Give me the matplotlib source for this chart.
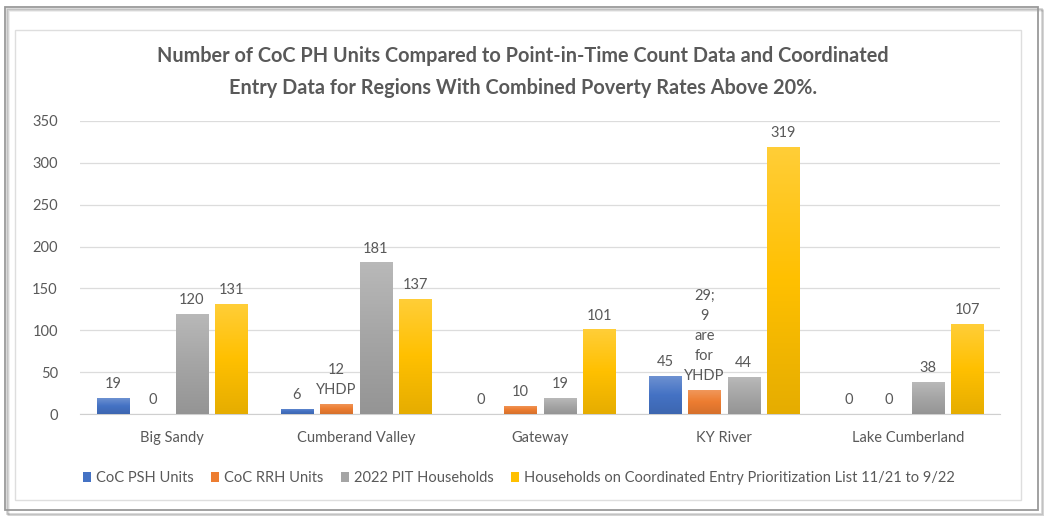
import numpy as np
import matplotlib
matplotlib.use("Agg")
import matplotlib.pyplot as plt
from matplotlib.colors import to_rgb, LinearSegmentedColormap
from matplotlib.patches import Rectangle, Patch

plt.rcParams["font.family"] = ["Lato", "DejaVu Sans"]

regions = ["Big Sandy", "Cumberand Valley", "Gateway", "KY River", "Lake Cumberland"]
series_names = [
    "CoC PSH Units",
    "CoC RRH Units",
    "2022 PIT Households",
    "Households on Coordinated Entry Prioritization List 11/21 to 9/22",
]
psh_units = [19, 6, 0, 45, 0]
rrh_units = [0, 12, 10, 29, 0]
pit_households = [120, 181, 19, 44, 38]
ce_households = [131, 137, 101, 319, 107]
rrh_labels = ["0", "12\nYHDP", "10", "29;\n9\nare\nfor\nYHDP", "0"]
y_ticks = [0, 50, 100, 150, 200, 250, 300, 350]

COLORS = ["#4472C4", "#ED7D31", "#A5A5A5", "#FFC000"]
TEXT = "#595959"


def shade(color, amount):
    r, g, b = to_rgb(color)
    if amount > 0:
        return (r + (1 - r) * amount, g + (1 - g) * amount, b + (1 - b) * amount)
    return (r * (1 + amount), g * (1 + amount), b * (1 + amount))


fig = plt.figure(figsize=(10.44, 5.16), dpi=100)
fig.patch.set_facecolor("white")

# outer frame with a soft shadow, then inner chart border
W, H = 1044, 516
for off, alpha in [(4, 0.08), (3, 0.12), (2, 0.18)]:
    fig.patches.append(Rectangle(((5 + off) / W, (H - 512 - off) / H), 1035 / W, 505 / H,
                                 transform=fig.transFigure, fill=False,
                                 edgecolor=(0, 0, 0, alpha), lw=1.2))
fig.patches.append(Rectangle((5 / W, (H - 510) / H), 1033 / W, 503 / H,
                             transform=fig.transFigure, fill=False, edgecolor="#9a9a9a", lw=1.3))
fig.patches.append(Rectangle((15 / W, (H - 500) / H), 1006 / W, 470 / H,
                             transform=fig.transFigure, fill=False, edgecolor="#dedede", lw=1.0))

ax = fig.add_axes([80 / W, (H - 414) / H, 920 / W, 293 / H])

fig.text(523 / W, (H - 72) / H,
         "Number of CoC PH Units Compared to Point-in-Time Count Data and Coordinated\n"
         "Entry Data for Regions With Combined Poverty Rates Above 20%.",
         ha="center", va="center", fontsize=14.3, fontweight="bold", color=TEXT,
         linespacing=1.7)

x = np.arange(len(regions))
step = 0.214
width = 0.175
all_series = [psh_units, rrh_units, pit_households, ce_households]
for i, (vals, color) in enumerate(zip(all_series, COLORS)):
    pos = x + (i - 1.5) * step
    bars = ax.bar(pos, vals, width, color="none", edgecolor="none", zorder=3)
    cmap = LinearSegmentedColormap.from_list(
        f"g{i}", [shade(color, -0.1), color, shade(color, 0.22)])
    grad = np.linspace(0, 1, 256).reshape(-1, 1)
    for b, v in zip(bars, vals):
        if v <= 0:
            continue
        im = ax.imshow(grad, cmap=cmap, origin="lower", aspect="auto",
                       extent=(b.get_x(), b.get_x() + width, 0, v), zorder=3)
        im.set_clip_path(b)
    labels = rrh_labels if i == 1 else [str(v) for v in vals]
    for p, v, lab in zip(pos, vals, labels):
        ax.annotate(lab, (p, v), xytext=(0, 5), textcoords="offset points",
                    ha="center", va="bottom", fontsize=10.5, color=TEXT,
                    linespacing=1.55)

ax.set_xlim(-0.5, len(regions) - 0.5)
ax.set_ylim(0, 350)
ax.set_yticks(y_ticks)
ax.set_xticks(x)
ax.set_xticklabels(regions)
ax.tick_params(axis="both", length=0, colors=TEXT, labelsize=10.5)
ax.tick_params(axis="x", pad=12)
ax.tick_params(axis="y", pad=16)
ax.grid(axis="y", color="#dcdcdc", lw=0.9, zorder=0)
ax.set_axisbelow(True)
for s in ["top", "right", "left"]:
    ax.spines[s].set_visible(False)
ax.spines["bottom"].set_color("#cfcfcf")
ax.set_facecolor("none")

handles = [Patch(facecolor=c, edgecolor="none") for c in COLORS]
fig.legend(handles, series_names, loc="center", bbox_to_anchor=(519 / W, (H - 478) / H),
           ncol=4, frameon=False, fontsize=10.5, labelcolor=TEXT,
           handlelength=0.55, handleheight=0.75, handletextpad=0.35, columnspacing=1.2)

fig.savefig("out.png", dpi=100, facecolor="white")
